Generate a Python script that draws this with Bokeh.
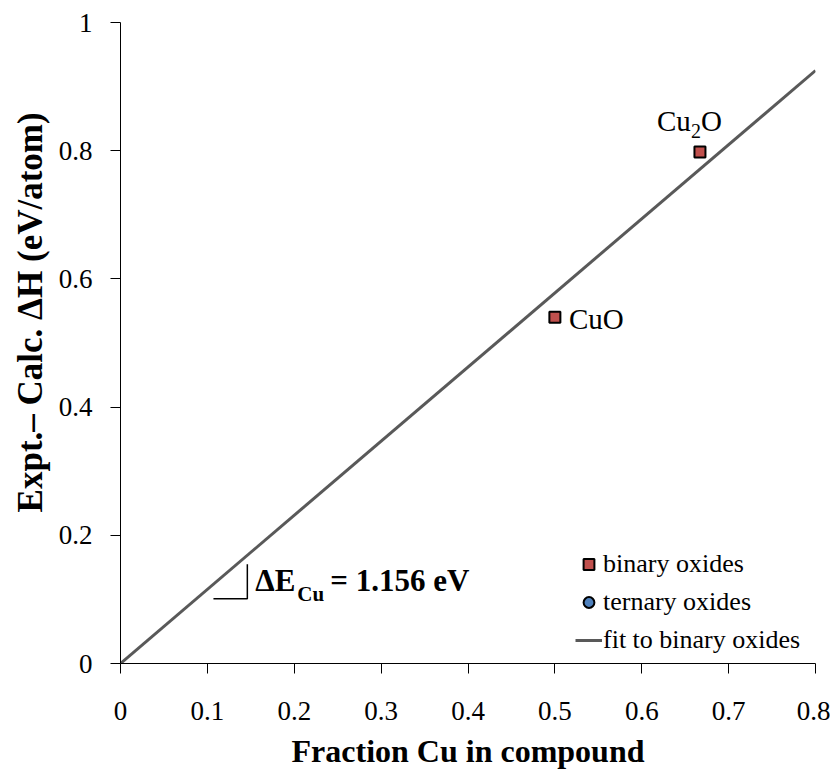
from bokeh.plotting import figure
from bokeh.models import FixedTicker, Label, Legend, LegendItem, ColumnDataSource
from bokeh.embed import file_html
from bokeh.resources import INLINE

# ---- data ----
compounds = ["CuO", "Cu2O"]
frac_cu = [0.5, 0.667]
delta_h = [0.54, 0.798]
ternary_frac = [float("nan")]   # no ternary oxides plotted (legend entry only)
ternary_dh = [float("nan")]
fit_slope = 1.156
fit_x = [0.0, 0.8]
fit_y = [0.0, 0.925]
x_ticks = [0, 0.1, 0.2, 0.3, 0.4, 0.5, 0.6, 0.7, 0.8]
x_tick_labels = ["0", "0.1", "0.2", "0.3", "0.4", "0.5", "0.6", "0.7", "0.8"]
y_ticks = [0, 0.2, 0.4, 0.6, 0.8, 1]
y_tick_labels = ["0", "0.2", "0.4", "0.6", "0.8", "1"]
slope_x = [0.107, 0.146, 0.146]
slope_y = [0.101, 0.101, 0.155]

SERIF = "Liberation Serif"

p = figure(width=830, height=771, x_range=(0, 0.8), y_range=(0, 1),
           output_backend="svg", toolbar_location=None,
           min_border_left=120, min_border_right=15,
           min_border_top=22, min_border_bottom=106)
p.outline_line_color = None
p.xgrid.visible = False
p.ygrid.visible = False
p.background_fill_color = "white"
p.border_fill_color = "white"

def key(t):
    return int(t) if float(t).is_integer() else t

for ax, ticks, labels in ((p.xaxis[0], x_ticks, x_tick_labels), (p.yaxis[0], y_ticks, y_tick_labels)):
    ax.ticker = FixedTicker(ticks=ticks, minor_ticks=[])
    ax.major_label_overrides = {key(t): l for t, l in zip(ticks, labels)}
    ax.axis_line_color = "black"
    ax.axis_line_width = 1
    ax.major_tick_line_color = "black"
    ax.major_tick_out = 10
    ax.major_tick_in = 0
    ax.minor_tick_out = 0
    ax.minor_tick_in = 0
    ax.major_label_text_font = SERIF
    ax.major_label_text_font_size = "27px"
    ax.major_label_text_color = "black"

p.xaxis.major_label_standoff = 28
p.yaxis.major_label_standoff = 18

p.xaxis.axis_label = "Fraction Cu in compound"
p.xaxis.axis_label_standoff = 10
# title sits a little above the frame centre in the original
p.yaxis.axis_label = "\u00a0" * 7 + "Expt.\u2013 Calc. \u0394H (eV/atom)"
p.yaxis.axis_label_standoff = 6
for ax in (p.xaxis[0], p.yaxis[0]):
    ax.axis_label_text_font = SERIF
    ax.axis_label_text_font_style = "bold"
    ax.axis_label_text_color = "black"
p.xaxis.axis_label_text_font_size = "32px"
p.yaxis.axis_label_text_font_size = "35px"

# fit line
r_fit = p.line(fit_x, fit_y, line_color="#595959", line_width=3)

# slope marker
p.line(slope_x, slope_y, line_color="black", line_width=1.5)

src = ColumnDataSource(dict(x=frac_cu, y=delta_h, name=compounds))
r_bin = p.scatter("x", "y", source=src, marker="square", size=11,
                  fill_color="#C0504D", line_color="black", line_width=2)
r_ter = p.scatter(ternary_frac, ternary_dh, marker="circle", size=11,
                  fill_color="#4F81BD", line_color="black", line_width=2)

# point labels
p.add_layout(Label(x=frac_cu[0], y=delta_h[0], x_offset=14, y_offset=-2, text="CuO",
                   text_font=SERIF, text_font_size="29px", text_baseline="middle",
                   text_color="black"))
for txt, dx, dy, fs in (("Cu", -43, 31, "29px"), ("2", -9, 21, "20px"), ("O", 1, 31, "29px")):
    p.add_layout(Label(x=frac_cu[1], y=delta_h[1], x_offset=dx, y_offset=dy, text=txt,
                       text_font=SERIF, text_font_size=fs, text_baseline="middle",
                       text_color="black"))

# slope annotation
for txt, dx, dy, fs in (("\u0394E", 8, 18, "31px"), ("Cu", 50, 5, "21px"), ("= 1.156 eV", 83, 18, "31px")):
    p.add_layout(Label(x=slope_x[1], y=slope_y[1], x_offset=dx, y_offset=dy, text=txt,
                       text_font=SERIF, text_font_style="bold", text_font_size=fs,
                       text_baseline="middle", text_color="black"))

legend = Legend(items=[LegendItem(label="binary oxides", renderers=[r_bin]),
                       LegendItem(label="ternary oxides", renderers=[r_ter]),
                       LegendItem(label="fit to binary oxides", renderers=[r_fit])],
                location=(455, 8), padding=0, margin=0, spacing=8,
                glyph_width=27, glyph_height=30, label_height=30, label_standoff=1,
                label_text_font=SERIF, label_text_font_size="26px",
                label_text_color="black", label_text_baseline="middle",
                border_line_color=None, background_fill_alpha=0)
p.add_layout(legend)

open("out.html", "w").write(file_html(p, INLINE))
